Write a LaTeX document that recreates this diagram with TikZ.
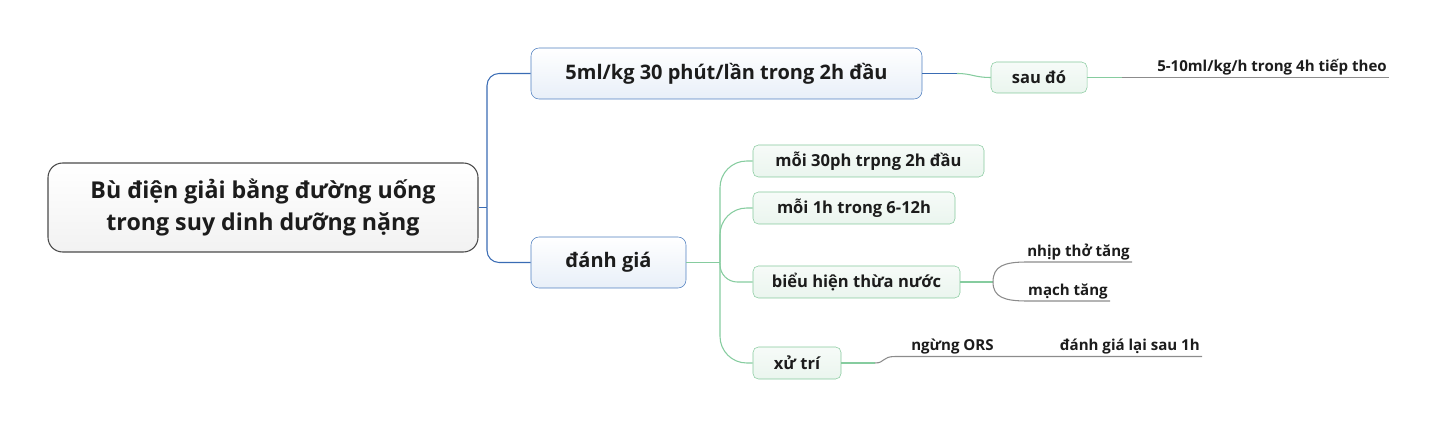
\documentclass[tikz,border=0pt]{standalone}
\usepackage{fontspec}
\setmainfont{Open Sans}
\usetikzlibrary{positioning}
\definecolor{rootdraw}{HTML}{4A4A4A}
\definecolor{rootfill}{HTML}{F2F2F2}
\definecolor{bluedraw}{HTML}{4F7FC0}
\definecolor{bluefill}{HTML}{E8EFF8}
\definecolor{bluelink}{HTML}{3A6CB4}
\definecolor{greendraw}{HTML}{86C99D}
\definecolor{greenfill}{HTML}{EAF5EE}
\definecolor{greenlink}{HTML}{86CC9F}
\definecolor{leaflink}{HTML}{8C8C8C}
\definecolor{inktext}{HTML}{1C1C1C}
\begin{document}
\begin{tikzpicture}[x=0.75pt,y=-0.75pt,
  root/.style={draw=rootdraw,thick,rounded corners=11pt,top color=white,bottom color=rootfill,
    minimum width=322.5pt,minimum height=66.75pt,align=center,text=inktext,
    font=\fontsize{17.4}{23.5}\selectfont\bfseries},
  topic/.style={draw=bluedraw,rounded corners=6pt,top color=white,bottom color=bluefill,
    minimum height=38.25pt,text=inktext,font=\fontsize{15}{18}\selectfont\bfseries},
  sub/.style={draw=greendraw,rounded corners=4pt,top color=white!60!greenfill,bottom color=greenfill,
    minimum height=24pt,text=inktext,font=\fontsize{12.4}{15}\selectfont\bfseries},
  leaf/.style={inner xsep=1.5pt,inner ysep=0pt,text depth=4.1pt,text=inktext,
    font=\fontsize{11.3}{13}\selectfont\bfseries},
  blueln/.style={bluelink,line width=0.8pt},
  greenln/.style={greenlink,line width=0.8pt},
  grayln/.style={leaflink,line width=0.8pt}]
\useasboundingbox (0,0) rectangle (1437,427);
% main topic and the two branches
\node[root] (root) at (263,207.5) {Bù điện giải bằng đường uống\\trong suy dinh dưỡng nặng};
\node[topic,minimum width=293.25pt] (dose) at (726.5,73.5) {5ml/kg 30 phút/lần trong 2h đầu};
\node[topic,minimum width=116.25pt] (check) at (608.5,262.5) {đánh giá};
\coordinate (rj) at (487,207.5);
\draw[blueln] (root.east) -- (rj);
\draw[blueln,rounded corners=9pt] (rj) |- (dose.west);
\draw[blueln,rounded corners=9pt] (rj) |- (check.west);
% after the first 2h
\node[sub,minimum width=72pt,minimum height=23.25pt] (after) at (1039,77.5) {sau đó};
\node[leaf,anchor=south east] (next4h) at (1389,77.5) {5-10ml/kg/h trong 4h tiếp theo};
\coordinate (da) at (957,73.5);
\coordinate (aa) at (1122,77.5);
\draw[blueln] (dose.east) -- (da);
\draw[greenln] (da) .. controls (972,73.5) and (974,77.5) .. (after.west);
\draw[greenln] (after.east) -- (aa);
\draw[grayln] (aa) -- (next4h.south east);
% what to check
\node[sub,minimum width=173.25pt] (every30) at (868.5,161) {mỗi 30ph trpng 2h đầu};
\node[sub,minimum width=151.5pt] (every1h) at (854,208) {mỗi 1h trong 6-12h};
\node[sub,minimum width=155.25pt] (overload) at (856.5,282) {biểu hiện thừa nước};
\node[sub,minimum width=66pt] (manage) at (797,363) {xử trí};
\coordinate (cj) at (720,262.5);
\draw[greenln] (check.east) -- (cj);
\draw[greenln,rounded corners=20pt] (cj) |- (every30.west);
\draw[greenln,rounded corners=20pt] (cj) |- (every1h.west);
\draw[greenln,rounded corners=13pt] (cj) |- (overload.west);
\draw[greenln,rounded corners=20pt] (cj) |- (manage.west);
% signs of overload
\node[leaf,anchor=south east] (breath) at (1132,262) {nhịp thở tăng};
\node[leaf,anchor=south east] (pulse) at (1110,301) {mạch tăng};
\coordinate (oa) at (993,282);
\draw[greenln] (overload.east) -- (oa);
\draw[grayln] (oa) .. controls (993,266) and (1004,262) .. (1027,262) -- (breath.south east);
\draw[grayln] (oa) .. controls (993,297) and (1004,301) .. (1027,301) -- (pulse.south east);
% management
\node[leaf,anchor=south west] (stop) at (909,356.5) {ngừng ORS};
\node[leaf,anchor=south east] (recheck) at (1202,356.5) {đánh giá lại sau 1h};
\coordinate (ma) at (875,363);
\draw[greenln] (manage.east) -- (ma);
\draw[grayln] (ma) .. controls (885,363) and (882,356.5) .. (895,356.5) -- (stop.south west) -- (recheck.south east);
\end{tikzpicture}
\end{document}
